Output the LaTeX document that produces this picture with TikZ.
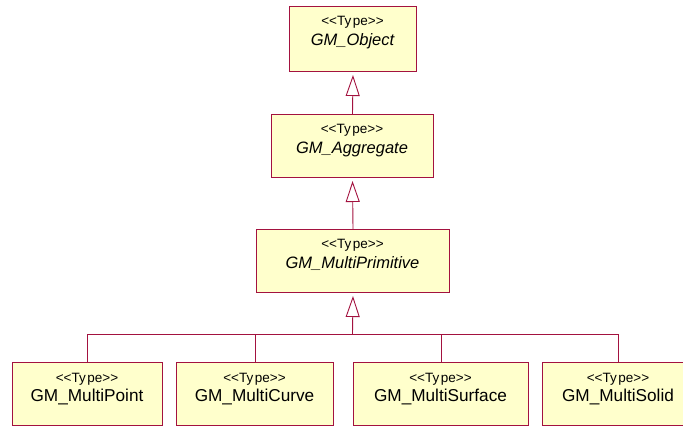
\documentclass[tikz,border=0pt]{standalone}
\usepackage{fontspec}
\setmainfont{Liberation Sans}
\usetikzlibrary{arrows.meta}
\definecolor{umlfill}{HTML}{FFFFCC}
\definecolor{umlline}{HTML}{A3123F}
% kerns keep the guillemet ligature from forming
\newcommand\stereotypeText{<\kern0pt<Ty\kern1.5pt pe>\kern0pt>}
\begin{document}
\begin{tikzpicture}[x=1pt,y=-1pt,
  classbox/.style={draw=umlline, fill=umlfill, line width=1pt, inner sep=0pt, anchor=north west},
  stereo/.style={anchor=base, inner sep=0pt, font=\fontsize{13.5}{15}\selectfont},
  cname/.style={anchor=base, inner sep=0pt, font=\fontsize{16.5}{18}\selectfont\itshape},
  lname/.style={anchor=base, inner sep=0pt, font=\fontsize{17.2}{19}\selectfont},
  link/.style={draw=umlline, line width=0.9pt},
  gen/.style={link, -{Triangle[open, length=21pt, width=14pt]}, shorten >=3pt}]
\clip (0,0) rectangle (683,428);

% abstract chain
\node[classbox, minimum width=127pt, minimum height=65pt] (obj) at (289,6) {};
\node[stereo] (objS) at (352.5,26) {\stereotypeText};
\node[cname] (objN) at (352.5,46) {GM\_Object};

\node[classbox, minimum width=162pt, minimum height=63pt] (agg) at (271,114) {};
\node[stereo] (aggS) at (352,133) {\stereotypeText};
\node[cname] (aggN) at (352,153) {GM\_Aggregate};

\node[classbox, minimum width=193pt, minimum height=63pt] (prim) at (256,229) {};
\node[stereo] (primS) at (352.5,248) {\stereotypeText};
\node[cname] (primN) at (352.5,268) {GM\_MultiPrimitive};

% concrete aggregates
\node[classbox, minimum width=150pt, minimum height=63pt] (pt) at (12,362) {};
\node[stereo] (ptS) at (87,382) {\stereotypeText};
\node[lname] (ptN) at (87,401) {GM\_MultiPoint};

\node[classbox, minimum width=157pt, minimum height=63pt] (cv) at (176,362) {};
\node[stereo] (cvS) at (254.5,382) {\stereotypeText};
\node[lname] (cvN) at (254.5,401) {GM\_MultiCurve};

\node[classbox, minimum width=175pt, minimum height=63pt] (sf) at (353,362) {};
\node[stereo] (sfS) at (440.5,382) {\stereotypeText};
\node[lname] (sfN) at (440.5,401) {GM\_MultiSurface};

\node[classbox, minimum width=152pt, minimum height=63pt] (sd) at (542,362) {};
\node[stereo] (sdS) at (618,382) {\stereotypeText};
\node[lname] (sdN) at (618,401) {GM\_MultiSolid};

% generalisations
\draw[gen] (agg.north) -- (obj.south);
\draw[gen] (prim.north) -- (agg.south);

\coordinate (bus) at (352.5,334);
\draw[link] (pt.north) -- (pt.north |- bus) -- (sd.north |- bus) -- (sd.north);
\draw[link] (cv.north) -- (cv.north |- bus);
\draw[link] (sf.north) -- (sf.north |- bus);
\draw[gen] (bus) -- (prim.south);
\end{tikzpicture}
\end{document}
